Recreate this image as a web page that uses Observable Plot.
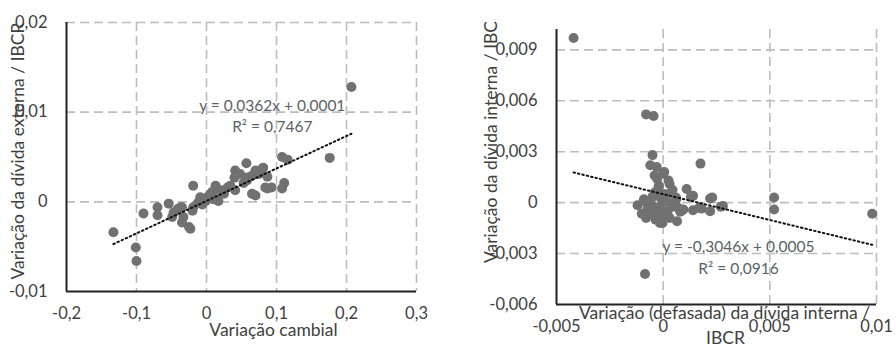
<!DOCTYPE html>
<html>
<head>
<meta charset="utf-8">
<script src="https://cdn.jsdelivr.net/npm/d3@7"></script>
<script src="https://cdn.jsdelivr.net/npm/@observablehq/plot@0.6"></script>
<style>
  html, body { margin: 0; padding: 0; background: #fff; }
  #wrap { display: flex; width: 896px; height: 346px; }
  #wrap > div { width: 448px; height: 346px; }
</style>
</head>
<body>
<div id="wrap"><div id="left"></div><div id="right"></div></div>
<script>
// ---- Left panel: variação cambial vs variação da dívida externa / IBCR
const extX = [0.207,0.176,0.108,0.116,0.111,0.108,0.087,0.093,0.087,0.080,0.057,0.070,0.041,0.040,0.058,0.065,0.053,0.058,0.065,0.070,0.041,0.034,0.030,0.020,0.013,0.013,0.015,0.008,0.003,0.001,-0.001,-0.006,0.017,-0.009,-0.019,-0.019,-0.020,-0.023,-0.033,-0.035,-0.035,-0.041,-0.049,-0.054,-0.047,-0.070,-0.070,-0.090,-0.133,-0.101,-0.100,0.025,0.005,0.048,0.075,-0.012,0.010,0.081,0.084,-0.037,-0.025];
const extY = [0.0128,0.0049,0.0050,0.0047,0.0021,0.0015,0.0015,0.0016,0.0028,0.0037,0.0043,0.0035,0.0035,0.0027,0.0027,0.0029,0.0021,0.0024,0.0009,0.0007,0.0013,0.0018,0.0016,0.0013,0.0018,0.0015,0.0003,0.0011,0.0005,0.0005,0.0001,-0.0003,0.0001,0.0005,0.0018,-0.0006,-0.0010,-0.0030,-0.0017,-0.0023,-0.0006,-0.0008,-0.0017,-0.0002,-0.0012,-0.0006,-0.0015,-0.0013,-0.0034,-0.0051,-0.0066,0.0009,0.0008,0.0031,0.0031,-0.0001,0.0003,0.0038,0.0016,-0.0006,-0.0028];
const extXTicks = [-0.2,-0.1,0,0.1,0.2,0.3];
const extYTicks = [-0.01,0,0.01,0.02];
const extSlope = 0.0362, extIntercept = 0.0001;
const extEq = ["y = 0,0362x + 0,0001", "R² = 0,7467"];
const extXLabel = "Variação cambial";
const extYLabel = "Variação da dívida externa / IBCR";

// ---- Right panel: variação (defasada) da dívida interna / IBCR vs variação da dívida interna / IBC
const intX = [-0.0042,-0.0008,-0.00045,-0.0005,-0.0006,0.00005,-0.0004,0.00175,0.0011,0.0014,0.0003,0.0023,0.0028,0.0052,0.0052,0.0098,-0.0012,-0.0008,-0.00015,0.00065,-0.00085,0.0022,0.0018,0.0014,0.00095,-0.0004,-0.0001,0.0002,-0.0006,-0.00075,-0.0003,0.0002,0.0005,-0.00005,-0.00045,0.00003,0.00025,-0.0002,0.0006,-0.0009,0.0003,-0.0005,0.0007,
  -0.00083,-0.0006,-0.00036,-0.00003,0.00025,0.00044,-0.00013,-0.0005,0.00015,0.00062,0.0008,-0.001,-0.00022,0.00044,-0.0003,0,-0.00028,0.0013,0.0022,0.0027,0.0017,0.0009];
const intY = [0.0097,0.0052,0.0051,0.0028,0.0022,0.0018,0.0016,0.0023,0.0008,0.0004,0.0011,0.0003,-0.0002,0.0003,-0.0004,-0.00065,-0.00015,-0.0009,-0.0012,-0.0011,-0.0042,-0.0005,-0.00035,-0.00045,-0.0004,0.0006,0.00025,0.00005,0.00005,-0.0004,-0.0005,-0.0005,-0.00015,-0.0008,-0.00025,0.0005,0.0013,0.0010,0.0003,0.0002,-0.0009,-0.0007,-0.0003,
  0.00005,-0.00053,-0.001,-0.0012,-0.00083,-0.00024,-0.00024,0.00034,0.0005,0.00022,-0.00053,-0.00065,0.0009,0.00074,0.0021,0.0017,0.0014,0.00034,0.00024,-0.00024,-0.0003,-0.00045];
const intXTicks = [-0.005,0,0.005,0.01];
const intYTicks = [-0.006,-0.003,0,0.003,0.006,0.009];
const intSlope = -0.3046, intIntercept = 0.0005;
const intEq = ["y = -0,3046x + 0,0005", "R² = 0,0916"];
const intXLabel = ["Variação (defasada) da dívida interna /", "IBCR"];
const intYLabel = "Variação da dívida interna / IBC";

const FONT = "Lato, 'Open Sans', sans-serif";
const TXT = "#404040";
const DOT = "#717171";
const GRID = "#bdbdbd";
const fmt = d => String(d).replace(".", ",");

function panel({xs, ys, xDomain, yDomain, xTicks, yTicks, slope, intercept, eq, eqPos,
                margins, xLabelMarks, yLabel, yLabelOff}) {
  const pts = xs.map((x, i) => ({x, y: ys[i]}));
  const [x0, x1] = d3.extent(xs);
  const fit = [x0, x1].map(x => ({x, y: slope * x + intercept}));
  return Plot.plot({
    width: 448, height: 346,
    ...margins,
    style: {fontFamily: FONT, fontSize: "16.5px", color: TXT, background: "#fff"},
    x: {domain: xDomain, label: null},
    y: {domain: yDomain, label: null},
    marks: [
      Plot.gridX(xTicks.slice(1), {stroke: GRID, strokeOpacity: 1, strokeWidth: 1.6, strokeDasharray: "9,5"}),
      Plot.gridY(yTicks.slice(1), {stroke: GRID, strokeOpacity: 1, strokeWidth: 1.6, strokeDasharray: "9,5"}),
      Plot.axisX(xTicks, {tickSize: 0, tickPadding: 16, tickFormat: fmt, fill: TXT, label: null}),
      Plot.axisY(yTicks, {tickSize: 0, tickPadding: 19, tickFormat: fmt, fill: TXT, label: null}),
      Plot.ruleX([xDomain[0]], {stroke: "#222", strokeWidth: 2}),
      Plot.ruleY([yDomain[0]], {stroke: "#222", strokeWidth: 2}),
      Plot.dot(pts, {x: "x", y: "y", r: 5, fill: DOT, stroke: "none"}),
      Plot.line(fit, {x: "x", y: "y", stroke: "#111", strokeWidth: 2, strokeDasharray: "1.5,3"}),
      Plot.text([eq[0]], {x: eqPos[0], y: eqPos[1], text: d => d, fill: "#5b5f66", fontSize: 15.5}),
      Plot.text([eq[1]], {x: eqPos[0], y: eqPos[2], text: d => d, fill: "#5b5f66", fontSize: 15.5}),
      ...xLabelMarks,
      Plot.text([yLabel], {frameAnchor: "left", dx: yLabelOff[0], dy: yLabelOff[1], rotate: -90,
                           text: d => d, fill: TXT, fontSize: 17.5, textAnchor: "middle", lineAnchor: "middle"})
    ]
  });
}

document.getElementById("left").append(panel({
  xs: extX, ys: extY, xDomain: [-0.2, 0.3], yDomain: [-0.01, 0.02],
  xTicks: extXTicks, yTicks: extYTicks, slope: extSlope, intercept: extIntercept,
  eq: extEq, eqPos: [0.094, 0.0107, 0.0083],
  margins: {marginLeft: 66, marginRight: 32, marginTop: 22, marginBottom: 55},
  xLabelMarks: [Plot.text([extXLabel], {frameAnchor: "bottom", dx: 32, dy: 39, text: d => d, fill: TXT, fontSize: 17.5, lineAnchor: "middle"})],
  yLabel: extYLabel, yLabelOff: [-48, -6]
}));

document.getElementById("right").append(panel({
  xs: intX, ys: intY, xDomain: [-0.005, 0.01], yDomain: [-0.006, 0.0102],
  xTicks: intXTicks, yTicks: intYTicks, slope: intSlope, intercept: intIntercept,
  eq: intEq, eqPos: [0.00353, -0.00263, -0.0039],
  margins: {marginLeft: 108, marginRight: 20, marginTop: 29, marginBottom: 42},
  xLabelMarks: [
    Plot.text([intXLabel[0]], {frameAnchor: "bottom", dx: 8, dy: 9, text: d => d, fill: TXT, fontSize: 17.5, lineAnchor: "middle"}),
    Plot.text([intXLabel[1]], {frameAnchor: "bottom", dx: 9, dy: 34, text: d => d, fill: TXT, fontSize: 17.5, lineAnchor: "middle"})
  ],
  yLabel: intYLabel, yLabelOff: [-65, -25]
}));
</script>
</body>
</html>
